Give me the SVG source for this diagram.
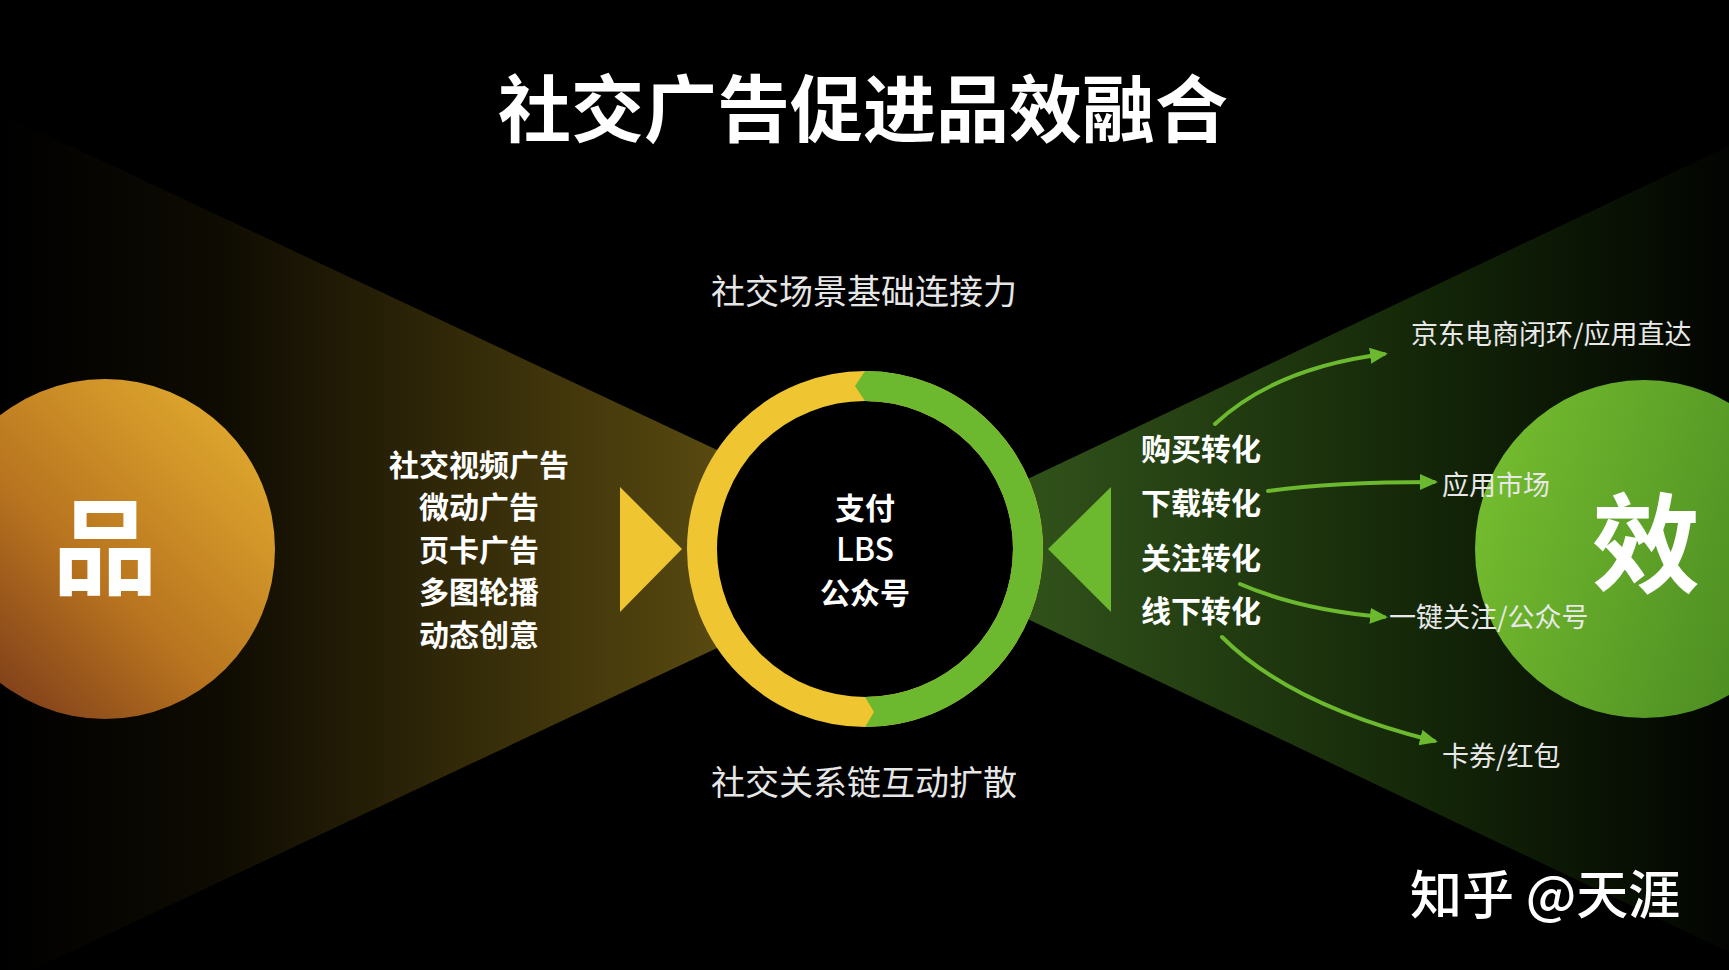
<svg xmlns="http://www.w3.org/2000/svg" width="1729" height="970" viewBox="0 0 1729 970">
<style>
.t{font-family:"Noto Sans CJK SC","Noto Sans",sans-serif;fill:#fff}
.b{font-weight:bold}
.lab{font-size:30px;font-weight:bold;fill:#fff}
.dst{font-size:27px;fill:#e8e8e8}
.cap{font-size:34px;fill:#e6e6e6;text-anchor:middle}
.con{fill:none;stroke:#6cb82e;stroke-width:4;stroke-linecap:round}
</style>
<defs>
<linearGradient id="gl" gradientUnits="userSpaceOnUse" x1="0" y1="0" x2="720" y2="0">
<stop offset="0" stop-color="#000"/><stop offset="0.3" stop-color="#0e0b02"/><stop offset="1" stop-color="#594a10"/>
</linearGradient>
<linearGradient id="gr" gradientUnits="userSpaceOnUse" x1="1045" y1="0" x2="1729" y2="0">
<stop offset="0" stop-color="#30501a"/><stop offset="0.55" stop-color="#142708"/><stop offset="1" stop-color="#020401"/>
</linearGradient>
<linearGradient id="cpin" x1="0" y1="1" x2="1" y2="0">
<stop offset="0" stop-color="#6a2a18"/><stop offset="0.45" stop-color="#b8741f"/><stop offset="1" stop-color="#e9b532"/>
</linearGradient>
<linearGradient id="cxiao" x1="0" y1="0" x2="1" y2="0.3">
<stop offset="0" stop-color="#78c130"/><stop offset="1" stop-color="#4c8c22"/>
</linearGradient>
<marker id="ah" markerUnits="userSpaceOnUse" markerWidth="20" markerHeight="18" refX="14" refY="8" orient="auto">
<path d="M0,0 L18,8 L0,16 z" fill="#6cb82e"/>
</marker>
</defs>
<rect width="1729" height="970" fill="#000"/>

<g id="cone-left"><polygon points="0,113 928,549 0,985" fill="url(#gl)"/></g>
<g id="cone-right"><polygon points="1729,146 880,549 1729,952" fill="url(#gr)"/></g>

<g id="title"><text class="t b" x="863" y="136" font-size="73" text-anchor="middle">社交广告促进品效融合</text></g>

<g id="node-pin">
<circle cx="105" cy="549" r="170" fill="url(#cpin)"/>
<text class="t b" x="105" y="586" font-size="105" text-anchor="middle">品</text>
</g>

<g id="node-xiao">
<circle cx="1644" cy="549" r="169" fill="url(#cxiao)"/>
<text class="t b" x="1646" y="584" font-size="108" text-anchor="middle">效</text>
</g>

<g id="node-ring">
<circle cx="865" cy="549" r="163" fill="#000" stroke="#efc531" stroke-width="30"/>
<path d="M865,371 A178,178 0 0 1 865,727 L874,712 L865,697 A148,148 0 0 0 865,401 L855,386 Z" fill="#6cb82e"/>
<text class="t b" x="865" y="519" font-size="30" text-anchor="middle">支付</text>
<text class="t" x="865" y="561" font-size="32" font-weight="500" text-anchor="middle">LBS</text>
<text class="t b" x="865" y="604" font-size="30" text-anchor="middle">公众号</text>
</g>

<g id="tri-left"><polygon points="620,487 682,549 620,612" fill="#efc531"/></g>
<g id="tri-right"><polygon points="1111,487 1048,549 1111,612" fill="#6cb82e"/></g>

<g id="cap-top"><text class="t cap" x="864" y="304">社交场景基础连接力</text></g>
<g id="cap-bottom"><text class="t cap" x="864" y="795">社交关系链互动扩散</text></g>

<g id="left-list">
<text class="t lab" x="479" y="476" text-anchor="middle">社交视频广告</text>
<text class="t lab" x="479" y="518" text-anchor="middle">微动广告</text>
<text class="t lab" x="479" y="561" text-anchor="middle">页卡广告</text>
<text class="t lab" x="479" y="603" text-anchor="middle">多图轮播</text>
<text class="t lab" x="479" y="646" text-anchor="middle">动态创意</text>
</g>

<g id="right-list">
<text class="t lab" x="1141" y="460">购买转化</text>
<text class="t lab" x="1141" y="514">下载转化</text>
<text class="t lab" x="1141" y="569">关注转化</text>
<text class="t lab" x="1141" y="622">线下转化</text>
</g>

<g id="targets">
<text class="t dst" x="1411" y="344">京东电商闭环/应用直达</text>
<text class="t dst" x="1442" y="495">应用市场</text>
<text class="t dst" x="1389" y="627">一键关注/公众号</text>
<text class="t dst" x="1442" y="766">卡券/红包</text>
</g>

<g id="connectors">
<path class="con" d="M1215,424 Q1275,368 1384,354" marker-end="url(#ah)"/>
<path class="con" d="M1268,491 Q1330,482 1434,482" marker-end="url(#ah)"/>
<path class="con" d="M1240,584 Q1300,610 1384,617" marker-end="url(#ah)"/>
<path class="con" d="M1222,637 Q1290,705 1434,741" marker-end="url(#ah)"/>
</g>

<g id="watermark"><text class="t" x="1410" y="914" font-size="52" font-weight="500">知乎 @天涯</text></g>
</svg>
